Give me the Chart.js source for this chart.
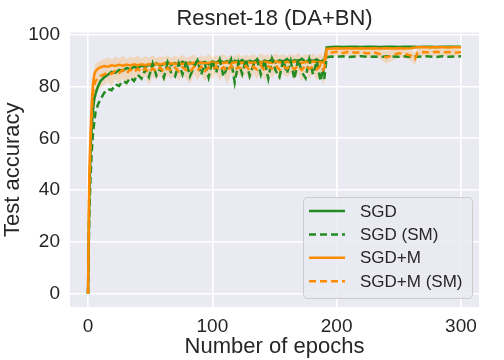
<!DOCTYPE html>
<html>
<head>
<meta charset="utf-8">
<script src="https://cdn.jsdelivr.net/npm/chart.js@4.4.1/dist/chart.umd.min.js"></script>
<style>
  html, body { margin: 0; padding: 0; background: #ffffff; }
  #wrap { width: 504px; height: 360px; }
</style>
</head>
<body>
<div id="wrap"><canvas id="accChart" width="504" height="360"></canvas></div>
<script>
// epochs sampled from the curves (x values)
const epochs = [
    0, 1, 2, 3, 4, 5, 6, 8, 10,
    13, 16, 19, 22, 25, 28, 31, 34, 37, 40,
    43, 46, 49, 52, 55, 58, 61, 64, 67, 70,
    73, 76, 79, 82, 85, 88, 91, 94, 97, 100,
    103, 106, 109, 112, 115, 118, 121, 124, 127, 130,
    133, 136, 139, 142, 145, 148, 151, 154, 157, 160,
    163, 166, 169, 172, 175, 178, 181, 184, 187, 189, 190,
    192, 196, 200, 205, 210, 215, 220, 225, 230, 235, 240, 245, 250, 255, 260, 263, 265, 270, 275, 280, 285, 290, 295, 300
];

// SGD
const sgd = [
    0, 38, 55, 65, 71, 75, 77, 80, 82,
    83.5, 84.5, 85.6, 85.2, 86.4, 86.0, 87.1, 86.5, 87.6, 87.0,
    88.1, 87.4, 88.4, 87.8, 88.9, 88.0, 88.6, 89.3, 88.2, 89.0,
    88.4, 89.5, 88.6, 89.2, 88.7, 89.8, 88.9, 89.4, 88.5, 89.6,
    89.0, 90.1, 89.2, 89.7, 88.8, 89.9, 89.3, 90.2, 89.1, 89.8,
    89.4, 90.3, 89.0, 89.9, 89.5, 90.4, 89.2, 90.0, 89.6, 90.5,
    89.3, 90.1, 89.7, 90.6, 89.4, 90.2, 89.8, 90.4, 89.5, 90.0, 89.6,
    95.0, 95.2, 95.3, 95.2, 95.3, 95.3, 95.2, 95.3, 95.3, 95.2, 95.3, 95.3, 95.2, 95.3, 95.3, 95.3, 95.2, 95.3, 95.3, 95.2, 95.3, 95.3, 95.3, 95.3
];

// SGD (SM)
const sgdSM = [
    0, 30, 45, 55, 62, 66, 70, 73, 75,
    77.5, 79.0, 78.5, 80.8, 80.2, 82.0, 81.3, 83.4, 82.1, 84.5,
    83.0, 86.5, 83.6, 88.8, 84.2, 87.0, 83.4, 89.2, 85.0, 83.8,
    88.9, 84.6, 89.6, 83.9, 87.2, 90.0, 84.5, 88.6, 83.4, 89.8,
    85.2, 90.2, 83.8, 87.5, 90.4, 81.5, 89.2, 84.8, 90.5, 84.0,
    88.2, 90.3, 84.6, 89.9, 83.0, 90.6, 86.0, 83.6, 90.2, 85.0,
    89.8, 82.8, 90.5, 85.6, 83.2, 90.4, 84.6, 89.8, 82.0, 87.0, 82.8,
    91.2, 91.5, 91.4, 91.6, 91.3, 91.5, 91.6, 91.4, 91.5, 91.3, 91.6, 91.5, 91.4, 91.6, 91.3, 91.5, 91.4, 91.6, 91.5, 91.3, 91.6, 91.4, 91.5, 91.6
];

// SGD+M
const sgdM = [
    0, 45, 62, 74, 81, 84.5, 85.8, 86.8, 87.4,
    87.8, 87.6, 88.1, 87.9, 88.3, 88.0, 88.4, 88.1, 88.5, 88.2,
    88.5, 88.2, 88.6, 88.3, 88.7, 88.4, 88.8, 88.5, 88.9, 88.6,
    88.9, 88.6, 89.0, 88.7, 89.1, 88.8, 89.2, 88.9, 89.0, 89.3,
    88.9, 89.2, 89.0, 89.3, 88.8, 89.4, 89.1, 89.0, 89.5, 89.2,
    89.0, 89.4, 89.1, 89.5, 89.2, 89.0, 89.6, 89.3, 89.1, 89.5,
    89.2, 89.6, 89.3, 89.0, 89.5, 89.2, 89.6, 89.3, 89.4, 89.1, 89.3,
    94.4, 94.6, 94.7, 94.6, 94.7, 94.6, 94.7, 94.6, 94.7, 94.6, 94.7, 94.6, 94.7, 94.6, 94.7, 95.0, 95.1, 95.1, 95.0, 95.1, 95.1, 95.0, 95.1, 95.1
];

// SGD+M (SM)
const sgdMSM = [
    0, 40, 58, 70, 77, 80.5, 82.0, 83.2, 84.0,
    84.6, 85.5, 84.8, 86.0, 85.2, 86.4, 85.0, 86.6, 85.4, 86.8,
    85.6, 87.0, 85.3, 86.9, 85.8, 87.2, 85.5, 87.1, 86.0, 87.3,
    85.8, 87.4, 86.2, 85.6, 87.5, 86.0, 87.6, 85.9, 87.3, 86.4,
    87.7, 86.1, 87.4, 85.8, 87.8, 86.3, 87.5, 86.6, 87.9, 86.2,
    87.6, 86.5, 88.0, 86.2, 87.7, 86.8, 88.1, 86.4, 87.8, 86.9,
    88.0, 86.6, 87.9, 86.3, 88.2, 86.8, 87.6, 86.5, 88.1, 86.4, 87.0,
    92.8, 93.1, 93.3, 92.9, 93.4, 93.0, 93.2, 92.7, 93.1, 92.4, 91.2, 92.0, 92.8, 92.5, 91.8, 90.6, 92.9, 93.2, 93.0, 93.3, 93.1, 93.2, 93.0, 93.2
];

// shaded spread around SGD+M (SM)
const bandHi = [
    0, 48, 66, 78, 84, 87, 88.5, 89.5, 90.0,
    90.6, 91.2, 90.4, 91.5, 90.8, 91.8, 90.6, 91.4, 91.0, 91.9,
    90.8, 91.6, 91.0, 92.0, 90.9, 91.7, 91.2, 92.1, 91.0, 91.8,
    91.3, 92.2, 91.0, 91.6, 92.3, 91.1, 91.9, 91.4, 92.4, 91.2,
    92.0, 91.5, 92.5, 91.3, 92.1, 91.6, 92.6, 91.4, 92.2, 91.7,
    92.5, 91.5, 92.7, 91.8, 92.3, 91.6, 92.8, 91.9, 92.4, 91.7,
    92.6, 91.8, 92.9, 91.6, 92.5, 92.0, 92.7, 91.7, 92.8, 91.9, 92.2,
    94.3, 94.6, 94.8, 94.5, 94.9, 94.6, 94.8, 94.4, 94.7, 94.3, 93.6, 94.0, 94.5, 94.2, 93.8, 93.0, 94.5, 94.7, 94.6, 94.8, 94.6, 94.7, 94.5, 94.7
];
const bandLo = [
    0, 30, 48, 62, 70, 74, 76.5, 78.5, 79.5,
    80.5, 81.8, 80.0, 82.6, 81.2, 83.0, 79.8, 83.4, 81.6, 83.8,
    82.0, 84.2, 80.5, 83.9, 82.6, 84.4, 81.8, 84.0, 82.8, 84.6,
    82.2, 84.5, 83.0, 81.0, 84.6, 82.4, 84.8, 81.9, 84.3, 82.8,
    85.0, 82.2, 84.5, 80.8, 85.1, 82.6, 84.6, 83.0, 85.2, 82.0,
    84.8, 82.7, 85.3, 82.0, 84.9, 83.1, 85.4, 82.4, 85.0, 83.2,
    85.2, 82.6, 85.1, 81.8, 85.4, 82.9, 84.8, 82.5, 85.3, 80.5, 82.0,
    91.3, 91.6, 91.8, 91.3, 91.9, 91.4, 91.6, 91.0, 91.5, 90.5, 88.8, 90.0, 91.1, 90.8, 89.8, 88.2, 91.3, 91.7, 91.4, 91.8, 91.6, 91.7, 91.5, 91.7
];

const xTicks = [0, 100, 200, 300];
const yTicks = [0, 20, 40, 60, 80, 100];
const legendLabels = ['SGD', 'SGD (SM)', 'SGD+M', 'SGD+M (SM)'];

const GREEN = '#228B22';
const ORANGE = '#FF8C00';
const TEXT = '#262626';
const FONT = "'Liberation Sans', Arial, sans-serif";
const LW = 2.5;

function pts(vals) {
    return epochs.map((e, i) => ({ x: e, y: vals[i] }));
}

// gray plot background
const plotBg = {
    id: 'plotBg',
    beforeDraw(chart) {
        const a = chart.chartArea;
        const ctx = chart.ctx;
        ctx.save();
        ctx.fillStyle = '#EAEAF2';
        ctx.fillRect(a.left, a.top, a.right - a.left, a.bottom - a.top);
        ctx.restore();
    }
};

// legend box in lower right, like matplotlib
const boxLegend = {
    id: 'boxLegend',
    afterDatasetsDraw(chart) {
        const ctx = chart.ctx;
        const x0 = 303, y0 = 197, w = 169, h = 101;
        ctx.save();
        ctx.beginPath();
        ctx.roundRect(x0 + 0.5, y0 + 0.5, w, h, 4);
        ctx.fillStyle = 'rgba(234,234,242,0.85)';
        ctx.fill();
        ctx.strokeStyle = '#CCCCCC';
        ctx.lineWidth = 1;
        ctx.stroke();
        const colors = [GREEN, GREEN, ORANGE, ORANGE];
        const dashed = [false, true, false, true];
        ctx.font = '17px ' + FONT;
        ctx.textBaseline = 'middle';
        legendLabels.forEach((lab, i) => {
            const y = 211 + i * 23.4;
            ctx.beginPath();
            ctx.setLineDash(dashed[i] ? [7, 4] : []);
            ctx.strokeStyle = colors[i];
            ctx.lineWidth = LW;
            ctx.moveTo(309, y);
            ctx.lineTo(345, y);
            ctx.stroke();
            ctx.setLineDash([]);
            ctx.fillStyle = TEXT;
            ctx.fillText(lab, 360, y + 1);
        });
        ctx.restore();
    }
};

new Chart(document.getElementById('accChart'), {
    type: 'line',
    data: {
        datasets: [
            {
                label: 'band hi',
                data: pts(bandHi),
                borderWidth: 0,
                pointRadius: 0,
                backgroundColor: 'rgba(255,140,0,0.2)',
                fill: '+1',
                order: 10
            },
            {
                label: 'band lo',
                data: pts(bandLo),
                borderWidth: 0,
                pointRadius: 0,
                fill: false,
                order: 11
            },
            {
                label: legendLabels[0],
                data: pts(sgd),
                borderColor: GREEN,
                borderWidth: LW,
                order: 6
            },
            {
                label: legendLabels[1],
                data: pts(sgdSM),
                borderColor: GREEN,
                borderWidth: LW,
                borderDash: [7, 4],
                order: 2
            },
            {
                label: legendLabels[2],
                data: pts(sgdM),
                borderColor: ORANGE,
                borderWidth: LW,
                order: 3
            },
            {
                label: legendLabels[3],
                data: pts(sgdMSM),
                borderColor: ORANGE,
                borderWidth: LW,
                borderDash: [7, 4],
                order: 1
            }
        ]
    },
    options: {
        responsive: false,
        animation: false,
        events: [],
        layout: { padding: { left: 0, right: 25, top: 0, bottom: 0 } },
        elements: {
            point: { radius: 0 },
            line: { tension: 0, fill: false }
        },
        plugins: {
            legend: { display: false },
            tooltip: { enabled: false },
            title: {
                display: true,
                text: 'Resnet-18 (DA+BN)',
                fullSize: false,
                color: TEXT,
                font: { family: FONT, size: 22, weight: 'normal' },
                padding: { top: 6, bottom: 0 }
            }
        },
        scales: {
            x: {
                type: 'linear',
                min: -14.5,
                max: 314.5,
                afterBuildTicks(scale) {
                    scale.ticks = xTicks.map(v => ({ value: v }));
                },
                afterFit(scale) { scale.height = 53; },
                grid: { color: '#FFFFFF', lineWidth: 1.6, drawTicks: false },
                border: { display: false },
                ticks: {
                    color: TEXT,
                    padding: 8,
                    maxRotation: 0,
                    font: { family: FONT, size: 19 }
                },
                title: {
                    display: true,
                    text: 'Number of epochs',
                    color: TEXT,
                    font: { family: FONT, size: 22 },
                    padding: { top: 0, bottom: 0 }
                }
            },
            y: {
                min: -5,
                max: 100.8,
                afterBuildTicks(scale) {
                    scale.ticks = yTicks.map(v => ({ value: v }));
                },
                afterFit(scale) { scale.width = 70; },
                grid: { color: '#FFFFFF', lineWidth: 1.6, drawTicks: false },
                border: { display: false },
                ticks: {
                    color: TEXT,
                    padding: 10,
                    font: { family: FONT, size: 19 }
                },
                title: {
                    display: true,
                    text: 'Test accuracy',
                    color: TEXT,
                    font: { family: FONT, size: 22 },
                    padding: { top: 0, bottom: 0 }
                }
            }
        }
    },
    plugins: [plotBg, boxLegend]
});
</script>
</body>
</html>
